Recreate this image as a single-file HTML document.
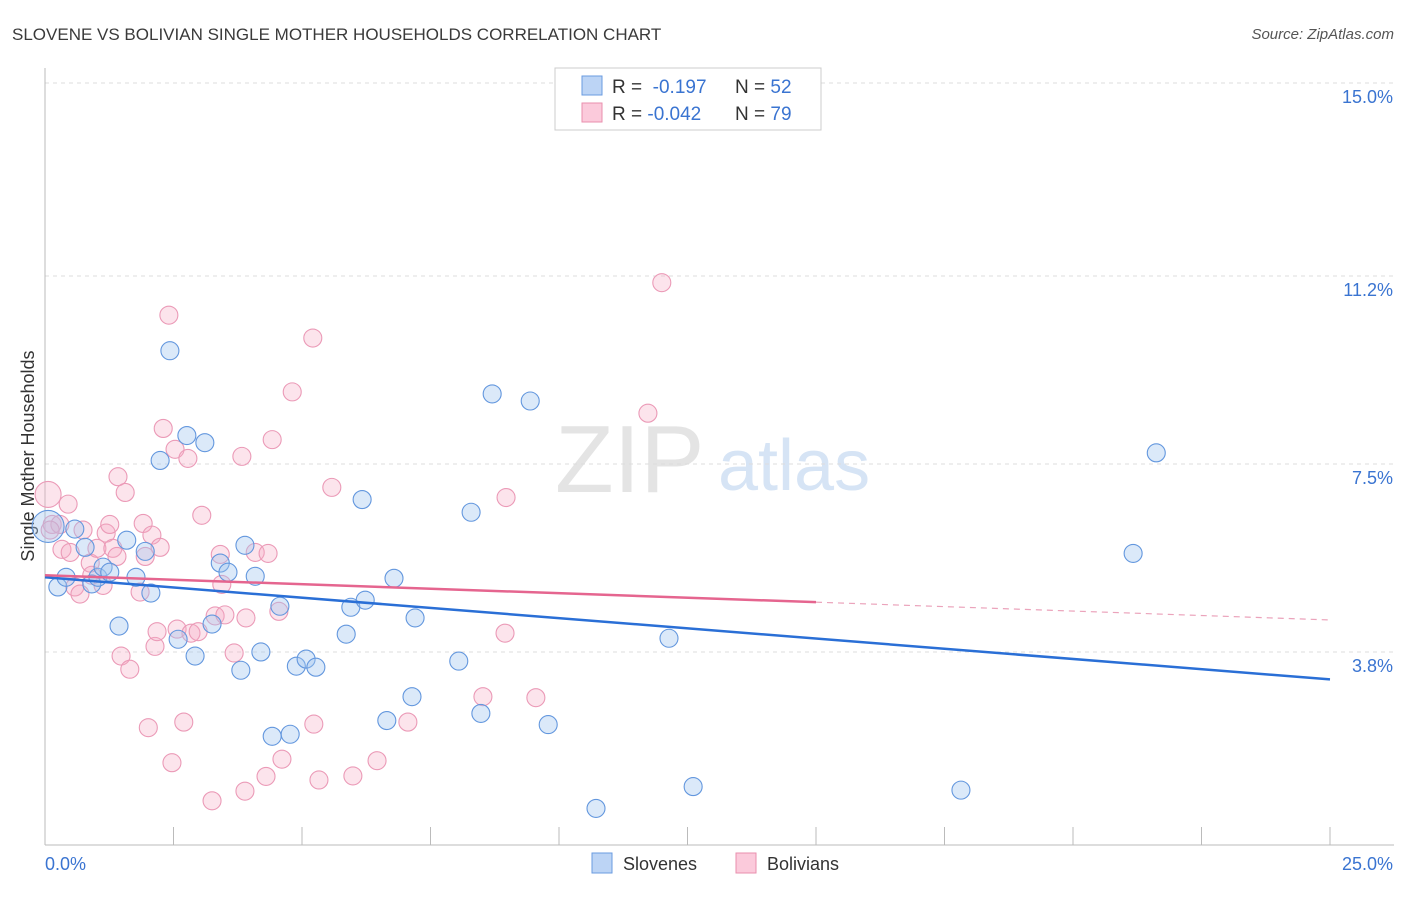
<!DOCTYPE html>
<html><head><meta charset="utf-8"><style>
body{margin:0;background:#fff;font-family:"Liberation Sans",sans-serif}
svg text{font-family:"Liberation Sans",sans-serif}
</style></head><body>
<svg id="c" width="1406" height="892">
<text x="12" y="40" font-size="17" fill="#3a3a3a">SLOVENE VS BOLIVIAN SINGLE MOTHER HOUSEHOLDS CORRELATION CHART</text>
<text x="1394" y="39" font-size="15" fill="#555" text-anchor="end" font-style="italic">Source: ZipAtlas.com</text>
<text x="34" y="456" font-size="18" fill="#333" text-anchor="middle" transform="rotate(-90 34 456)">Single Mother Households</text>
<text x="555" y="492" font-size="96" fill="#e4e4e4" font-family="Liberation Serif">ZIP</text>
<text x="718" y="490" font-size="72" fill="#d6e4f5">atlas</text>
<g id="grid"></g><g id="dots"></g><g id="lines"></g>
<rect x="555" y="68" width="266" height="62" fill="#fff" stroke="#ccc"/>
<rect x="582" y="76" width="20" height="19" fill="#bcd4f5" stroke="#6a9be0"/>
<rect x="582" y="103" width="20" height="19" fill="#fbcadb" stroke="#e98fae"/>
<text x="612" y="93" font-size="19" fill="#333">R = <tspan fill="#3a74d1">&#160;-0.197</tspan><tspan x="735">N = </tspan><tspan fill="#3a74d1">52</tspan></text>
<text x="612" y="120" font-size="19" fill="#333">R = <tspan fill="#3a74d1">-0.042</tspan><tspan x="735">N = </tspan><tspan fill="#3a74d1">79</tspan></text>
<rect x="592" y="853" width="20" height="20" fill="#bcd4f5" stroke="#6a9be0"/>
<text x="623" y="870" font-size="18" fill="#333">Slovenes</text>
<rect x="736" y="853" width="20" height="20" fill="#fbcadb" stroke="#e98fae"/>
<text x="767" y="870" font-size="18" fill="#333">Bolivians</text>
</svg>
<script>
const yTicks=[15.0,11.2,7.5,3.8];
const yTickLabels=["15.0%","11.2%","7.5%","3.8%"];
const xTickLabels=["0.0%","25.0%"];
const slovenesX=[0.06,0.25,0.41,0.58,0.78,0.91,1.03,1.13,1.26,1.44,1.59,1.77,1.95,2.06,2.24,2.43,2.59,2.76,2.92,3.11,3.25,3.41,3.56,3.81,3.89,4.09,4.2,4.42,4.57,4.77,4.89,5.08,5.27,5.86,5.95,6.17,6.23,6.65,6.79,7.14,7.2,8.05,8.29,8.48,8.7,9.44,9.79,10.72,12.14,12.61,17.82,21.17,21.62];
const slovenesY=[6.27,5.08,5.27,6.22,5.86,5.14,5.27,5.47,5.37,4.31,6.0,5.27,5.78,4.96,7.57,9.73,4.05,8.06,3.72,7.92,4.35,5.55,5.37,3.44,5.9,5.29,3.8,2.14,4.7,2.18,3.52,3.66,3.5,4.15,4.68,6.8,4.82,2.45,5.25,2.92,4.47,3.62,6.55,2.59,8.88,8.74,2.37,0.72,4.07,1.15,1.08,5.74,7.72];
const bolX=[0.06,0.14,0.29,0.45,0.33,0.49,0.58,0.68,0.74,0.88,0.91,1.01,1.13,1.19,1.26,1.32,1.4,1.42,1.48,1.56,1.65,1.85,1.91,1.95,2.01,2.08,2.14,2.18,2.24,2.3,2.41,2.47,2.53,2.57,2.7,2.78,2.84,2.98,3.05,3.25,3.31,3.41,3.44,3.5,3.68,3.83,3.89,3.91,4.09,4.3,4.34,4.42,4.55,4.61,4.81,5.21,5.23,5.33,5.58,5.99,6.46,7.06,8.52,8.95,8.97,9.55,11.73,12.0,0.1];
const bolY=[6.9,6.31,6.31,6.71,5.82,5.76,5.08,4.94,6.2,5.55,5.31,5.84,5.11,6.14,6.31,5.84,5.68,7.25,3.72,6.94,3.46,4.98,6.33,5.68,2.31,6.1,3.91,4.2,5.86,8.2,10.43,1.62,7.79,4.25,2.42,7.61,4.17,4.2,6.49,0.87,4.51,5.72,5.13,4.53,3.78,7.65,1.06,4.47,5.76,1.35,5.74,7.98,4.6,1.69,8.92,9.98,2.38,1.28,7.04,1.36,1.66,2.42,2.92,4.17,6.84,2.9,8.5,11.07,6.2];
const blueTrend=[[0,5.27],[25,3.26]];
const pinkTrendSolid=[[0,5.31],[15,4.78]];
const pinkTrendDash=[[15,4.78],[25,4.43]];
const X0=45,X1=1330,Y0=845,Y1=83;
const xs=v=>X0+v/25*(X1-X0);
const ys=v=>Y0-v/15*(Y0-Y1);
const NS='http://www.w3.org/2000/svg';
function mk(tag,at,parent){const e=document.createElementNS(NS,tag);for(const k in at)e.setAttribute(k,at[k]);document.getElementById(parent).appendChild(e);return e;}
const g='grid';
yTicks.forEach((t,i)=>{
 const l=mk('line',{x1:X0,x2:1394,y1:ys(t),y2:ys(t),stroke:'#ddd','stroke-dasharray':'4,4'},g);
 
 
 const tx=mk('text',{x:1393,y:ys(t)+20,'font-size':18,fill:'#3a74d1','text-anchor':'end'},g);
 tx.textContent=yTickLabels[i];
 
 
});
const ax=mk('line',{x1:X0,x2:X0,y1:68,y2:Y0,stroke:'#bbb'},g);


const bx=mk('line',{x1:X0,x2:1394,y1:Y0,y2:Y0,stroke:'#bbb'},g);


for(let i=1;i<=10;i++){const x=X0+i*(X1-X0)/10;const t=mk('line',{x1:x,x2:x,y1:Y0,y2:Y0-18,stroke:'#bbb'},g);
 
 }
const xl0=mk('text',{x:45,y:870,'font-size':18,fill:'#3a74d1'},g);xl0.textContent=xTickLabels[0];


const xl1=mk('text',{x:1393,y:870,'font-size':18,fill:'#3a74d1','text-anchor':'end'},g);xl1.textContent=xTickLabels[1];


bolX.forEach((v,i)=>{const r=i===0?13:9;const c=mk('circle',{cx:xs(v),cy:ys(bolY[i]),r:r,fill:'rgba(247,170,196,0.32)',stroke:'#eb9ab7','stroke-width':1.1},'dots');
 
 });
slovenesX.forEach((v,i)=>{const r=i===0?16:9;const c=mk('circle',{cx:xs(v),cy:ys(slovenesY[i]),r:r,fill:'rgba(160,196,240,0.38)',stroke:'#6397de','stroke-width':1.1},'dots');
 
 });
function ln(p,col,dash,name){const l=mk('line',{x1:xs(p[0][0]),y1:ys(p[0][1]),x2:xs(p[1][0]),y2:ys(p[1][1]),stroke:col,'stroke-width':dash?1.2:2.5},'lines');if(dash)l.setAttribute('stroke-dasharray','6,5');
 
 }
ln(blueTrend,'#2a6fd6',false,'slovene-trend-line');
ln(pinkTrendSolid,'#e5658f',false,'bolivian-trend-line');
ln(pinkTrendDash,'#eba3bb',true,'bolivian-trend-extension');
</script>
</body></html>
